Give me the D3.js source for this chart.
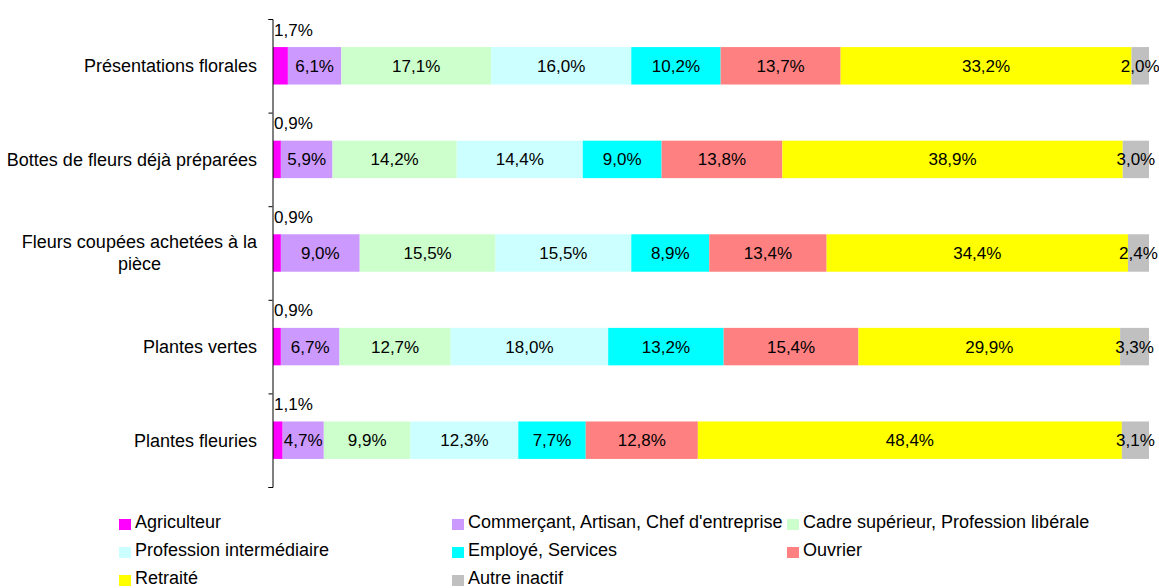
<!DOCTYPE html>
<html>
<head>
<meta charset="utf-8">
<script src="https://cdn.jsdelivr.net/npm/d3@7"></script>
<style>
  body { margin: 0; background: #fff; }
  text { font-family: "Liberation Sans", Arial, sans-serif; font-size: 17px; fill: #000; }
  .cat, .leg { font-size: 18px; }
</style>
</head>
<body>
<div id="chart"></div>
<script>
// categories (top to bottom) and series
var categories = ["Présentations florales", "Bottes de fleurs déjà préparées", "Fleurs coupées achetées à la pièce", "Plantes vertes", "Plantes fleuries"];
var series = ["Agriculteur", "Commerçant, Artisan, Chef d'entreprise", "Cadre supérieur, Profession libérale",
  "Profession intermédiaire", "Employé, Services", "Ouvrier", "Retraité", "Autre inactif"];
var colors = ["#FF00FF", "#CC99FF", "#CCFFCC", "#CCFFFF", "#00FFFF", "#FF8080", "#FFFF00", "#C0C0C0"];

var agriculteur = [1.7, 0.9, 0.9, 0.9, 1.1];
var commercant  = [6.1, 5.9, 9.0, 6.7, 4.7];
var cadre       = [17.1, 14.2, 15.5, 12.7, 9.9];
var intermed    = [16.0, 14.4, 15.5, 18.0, 12.3];
var employe     = [10.2, 9.0, 8.9, 13.2, 7.7];
var ouvrier     = [13.7, 13.8, 13.4, 15.4, 12.8];
var retraite    = [33.2, 38.9, 34.4, 29.9, 48.4];
var autre       = [2.0, 3.0, 2.4, 3.3, 3.1];

var seriesValues = [agriculteur, commercant, cadre, intermed, employe, ouvrier, retraite, autre];

var rows = categories.map(function (c, i) {
  var r = { cat: c };
  series.forEach(function (s, j) { r[s] = seriesValues[j][i]; });
  return r;
});

var width = 1159, height = 588;
var svg = d3.select("#chart").append("svg")
  .attr("width", width)
  .attr("height", height);

var x = d3.scaleLinear().domain([0, 1]).range([273, 1149]);
var y = d3.scaleBand().domain(categories).range([19, 487]).paddingInner(0.6).paddingOuter(0.3);
var yTicks = d3.scaleLinear().domain([0, categories.length]).range([19, 487]);

var stacked = d3.stack().keys(series).offset(d3.stackOffsetExpand)(rows);

var fmt = function (v) { return v.toFixed(1).replace(".", ",") + "%"; };

var layers = svg.selectAll(".layer")
  .data(stacked)
  .enter().append("g")
  .attr("class", "layer")
  .attr("fill", function (d, i) { return colors[i]; });

layers.selectAll("rect")
  .data(function (d) { return d; })
  .enter().append("rect")
  .attr("x", function (d) { return x(d[0]); })
  .attr("y", function (d) { return y(d.data.cat); })
  .attr("width", function (d) { return x(d[1]) - x(d[0]); })
  .attr("height", y.bandwidth());

// value labels
stacked.forEach(function (layer, i) {
  svg.append("g").selectAll("text")
    .data(layer)
    .enter().append("text")
    .attr("x", function (d) { return i === 0 ? x(d[0]) + 1 : (x(d[0]) + x(d[1])) / 2; })
    .attr("y", function (d) { return i === 0 ? y(d.data.cat) - 17.5 : y(d.data.cat) + y.bandwidth() / 2; })
    .attr("dy", "0.35em")
    .attr("text-anchor", i === 0 ? "start" : "middle")
    .text(function (d) { return fmt(d.data[layer.key]); });
});

// axis
svg.append("g")
  .attr("transform", "translate(272.5,0)")
  .call(d3.axisLeft(yTicks).tickValues(d3.range(0, categories.length + 1)).tickFormat("").tickSize(4).tickSizeOuter(4))
  .call(function (g) { g.selectAll("path, line").attr("stroke", "#000"); });

// category labels (wrap long ones, lines centred)
var labelMax = 252;
categories.forEach(function (c) {
  var t = svg.append("text").attr("class", "cat").attr("text-anchor", "middle");
  var words = c.split(" "), lines = [], line = [];
  var probe = svg.append("text").attr("class", "cat");
  words.forEach(function (w) {
    var test = line.concat([w]).join(" ");
    probe.text(test);
    if (probe.node().getComputedTextLength() > labelMax && line.length) {
      lines.push(line.join(" "));
      line = [w];
    } else line.push(w);
  });
  lines.push(line.join(" "));
  var widest = d3.max(lines, function (l) { probe.text(l); return probe.node().getComputedTextLength(); });
  probe.remove();
  var cx = 257 - widest / 2;
  var cy = y(c) + y.bandwidth() / 2;
  var lh = 22;
  lines.forEach(function (l, k) {
    t.append("tspan")
      .attr("x", cx)
      .attr("y", cy + (k - (lines.length - 1) / 2) * lh)
      .attr("dy", "0.35em")
      .text(l);
  });
});

// legend
var legX = [119, 452, 787], legY = [528, 556, 584];
var legend = svg.append("g").selectAll("g")
  .data(series)
  .enter().append("g")
  .attr("transform", function (d, i) { return "translate(" + legX[i % 3] + "," + legY[Math.floor(i / 3)] + ")"; });
legend.append("rect")
  .attr("x", 0).attr("y", -9)
  .attr("width", 12).attr("height", 11)
  .attr("fill", function (d, i) { return colors[i]; });
legend.append("text")
  .attr("class", "leg")
  .attr("x", 16).attr("y", 0)
  .text(function (d) { return d; });
</script>
</body>
</html>
